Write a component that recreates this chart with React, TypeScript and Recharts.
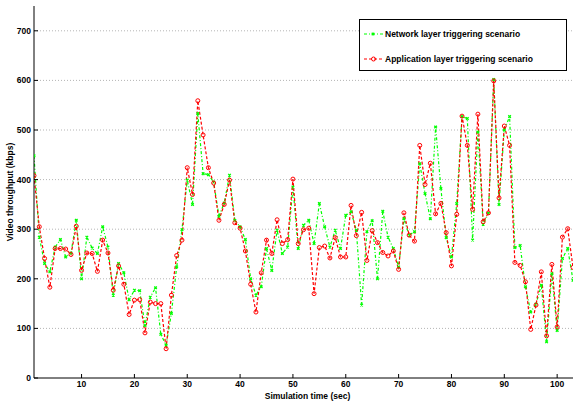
import React from 'react';
import { LineChart, Line, XAxis, YAxis, CartesianGrid, Legend } from 'recharts';

const times = [
  1, 2, 3, 4, 5, 6, 7, 8, 9, 10, 11, 12, 13, 14, 15, 16, 17, 18, 19, 20,
  21, 22, 23, 24, 25, 26, 27, 28, 29, 30, 31, 32, 33, 34, 35, 36, 37, 38, 39, 40,
  41, 42, 43, 44, 45, 46, 47, 48, 49, 50, 51, 52, 53, 54, 55, 56, 57, 58, 59, 60,
  61, 62, 63, 64, 65, 66, 67, 68, 69, 70, 71, 72, 73, 74, 75, 76, 77, 78, 79, 80,
  81, 82, 83, 84, 85, 86, 87, 88, 89, 90, 91, 92, 93, 94, 95, 96, 97, 98, 99, 100,
  101, 102, 103,
];

const networkLayer = [
  448, 284, 231, 214, 264, 279, 244, 252, 318, 200, 284, 262, 251, 305, 264, 167, 231, 212, 158, 177,
  176, 106, 163, 182, 88, 66, 130, 224, 299, 399, 350, 533, 412, 410, 395, 326, 353, 409, 318, 305,
  279, 200, 167, 184, 261, 217, 298, 251, 264, 385, 261, 308, 318, 271, 352, 305, 264, 298, 261, 328,
  335, 298, 147, 295, 317, 200, 336, 284, 261, 224, 321, 288, 295, 432, 372, 321, 506, 382, 283, 244,
  352, 527, 523, 278, 496, 310, 332, 602, 350, 500, 527, 263, 267, 184, 133, 149, 187, 73, 210, 96,
  241, 261, 197,
];

const applicationLayer = [
  408, 305, 241, 183, 261, 261, 260, 249, 306, 217, 252, 251, 215, 278, 252, 177, 226, 189, 128, 157,
  158, 91, 153, 150, 150, 59, 167, 247, 278, 424, 370, 559, 490, 424, 393, 318, 350, 399, 313, 302,
  256, 189, 133, 212, 278, 251, 319, 271, 279, 401, 271, 299, 302, 170, 263, 266, 242, 283, 244, 244,
  348, 287, 334, 237, 297, 273, 253, 246, 256, 219, 333, 288, 276, 469, 390, 433, 331, 352, 293, 226,
  330, 528, 469, 340, 532, 315, 333, 599, 363, 508, 469, 233, 227, 194, 98, 147, 214, 85, 229, 103,
  284, 301, 223,
];

const xTicks = [10, 20, 30, 40, 50, 60, 70, 80, 90, 100];
const yTicks = [0, 100, 200, 300, 400, 500, 600, 700];
const gridValues = [100, 200, 300, 400, 500, 600, 700];

const seriesNames = ['Network layer triggering scenario', 'Application layer triggering scenario'];

const data = times.map((t, i) => ({ t, net: networkLayer[i], app: applicationLayer[i] }));

const FONT = '"Liberation Sans", Arial, Helvetica, sans-serif';
const GREEN = '#00ff00';
const RED = '#ff0000';
const GREEN_DASH = '3 2 1 2';
const RED_DASH = '3 2';

const tickStyle = { fontSize: 8.5, fontWeight: 700, fill: '#000', fontFamily: FONT };

const GreenMark = (props: any) => {
  const { cx, cy } = props;
  if (cx == null || cy == null) return <g />;
  const s = 1.3;
  return (
    <path
      d={`M${cx - s},${cy - s}L${cx + s},${cy + s}M${cx - s},${cy + s}L${cx + s},${cy - s}`}
      stroke={GREEN}
      strokeWidth={1.3}
      fill="none"
    />
  );
};

const RedMark = (props: any) => {
  const { cx, cy } = props;
  if (cx == null || cy == null) return <g />;
  return <circle cx={cx} cy={cy} r={2} stroke={RED} strokeWidth={1} fill="none" />;
};

const LegendBox = () => (
  <div
    style={{
      position: 'relative',
      width: 208,
      height: 52,
      border: '1px solid #000',
      background: '#fff',
      boxSizing: 'border-box',
      fontFamily: FONT,
      fontSize: 8.5,
      fontWeight: 700,
      color: '#000',
    }}
  >
    {[0, 1].map((i) => (
      <div
        key={i}
        style={{
          position: 'absolute',
          left: 3,
          top: i === 0 ? 9 : 34,
          height: 10,
          display: 'flex',
          alignItems: 'center',
          whiteSpace: 'nowrap',
        }}
      >
        <svg width={22} height={10} style={{ display: 'block' }}>
          <line
            x1={1}
            y1={5}
            x2={20}
            y2={5}
            stroke={i === 0 ? GREEN : RED}
            strokeWidth={1.2}
            strokeDasharray={i === 0 ? GREEN_DASH : RED_DASH}
          />
          {i === 0 ? <GreenMark cx={10} cy={5} /> : <RedMark cx={10.5} cy={5} />}
        </svg>
        <span style={{ marginLeft: 0, lineHeight: '10px' }}>{seriesNames[i]}</span>
      </div>
    ))}
  </div>
);

export default function App() {
  return (
    <div style={{ position: 'absolute', left: 0, top: 0, width: 574, height: 403, background: '#fff' }}>
      <LineChart width={574} height={403} data={data} margin={{ top: 6, right: 1, bottom: 0, left: 0 }}>
        <CartesianGrid
          vertical={false}
          horizontalValues={gridValues}
          stroke="#b5b5b5"
          strokeDasharray="1 2"
        />
        <XAxis
          dataKey="t"
          type="number"
          domain={[1, 103]}
          ticks={xTicks}
          height={25}
          tickSize={-4}
          tickMargin={7}
          tick={tickStyle}
          stroke="#000"
          axisLine={{ stroke: '#000' }}
          tickLine={{ stroke: '#000' }}
          allowDataOverflow
          label={(p: any) => {
            const vb = p.viewBox || { x: 34, width: 539 };
            return (
              <text
                x={vb.x + vb.width / 2 + 4}
                y={396}
                textAnchor="middle"
                dominantBaseline="central"
                style={{ fontSize: 8.5, fontWeight: 700, fontFamily: FONT, fill: '#000' }}
              >
                Simulation time (sec)
              </text>
            );
          }}
        />
        <XAxis
          xAxisId="top"
          orientation="top"
          dataKey="t"
          type="number"
          domain={[1, 103]}
          ticks={xTicks}
          height={0}
          tickSize={-4}
          tickFormatter={() => ''}
          axisLine={{ stroke: '#000' }}
          tickLine={{ stroke: '#000' }}
          allowDataOverflow
        />
        <YAxis
          type="number"
          domain={[0, 750]}
          ticks={yTicks}
          width={34}
          tickSize={-4}
          tickMargin={7}
          tick={tickStyle}
          axisLine={{ stroke: '#000' }}
          tickLine={{ stroke: '#000' }}
          allowDataOverflow
          label={(p: any) => {
            const vb = p.viewBox || { y: 6, height: 372 };
            const cy = vb.y + vb.height / 2;
            return (
              <text
                x={10}
                y={cy}
                transform={`rotate(-90 10 ${cy})`}
                textAnchor="middle"
                dominantBaseline="central"
                style={{ fontSize: 8.5, fontWeight: 700, fontFamily: FONT, fill: '#000' }}
              >
                Video throughput (kbps)
              </text>
            );
          }}
        />
        <YAxis
          yAxisId="right"
          orientation="right"
          type="number"
          domain={[0, 750]}
          ticks={yTicks}
          width={0}
          tickSize={-4}
          tickFormatter={() => ''}
          axisLine={{ stroke: '#000' }}
          tickLine={{ stroke: '#000' }}
          allowDataOverflow
        />
        <Legend
          layout="vertical"
          align="center"
          verticalAlign="middle"
          content={() => <LegendBox />}
          wrapperStyle={{ left: 359, top: 19, width: 208, height: 52 }}
        />
        <Line
          dataKey="net"
          name={seriesNames[0]}
          stroke={GREEN}
          strokeWidth={1.2}
          strokeDasharray={GREEN_DASH}
          dot={(p: any) => <GreenMark key={`g${p.index}`} {...p} />}
          activeDot={false}
          isAnimationActive={false}
        />
        <Line
          dataKey="app"
          name={seriesNames[1]}
          stroke={RED}
          strokeWidth={1.2}
          strokeDasharray={RED_DASH}
          dot={(p: any) => <RedMark key={`r${p.index}`} {...p} />}
          activeDot={false}
          isAnimationActive={false}
        />
      </LineChart>
    </div>
  );
}
